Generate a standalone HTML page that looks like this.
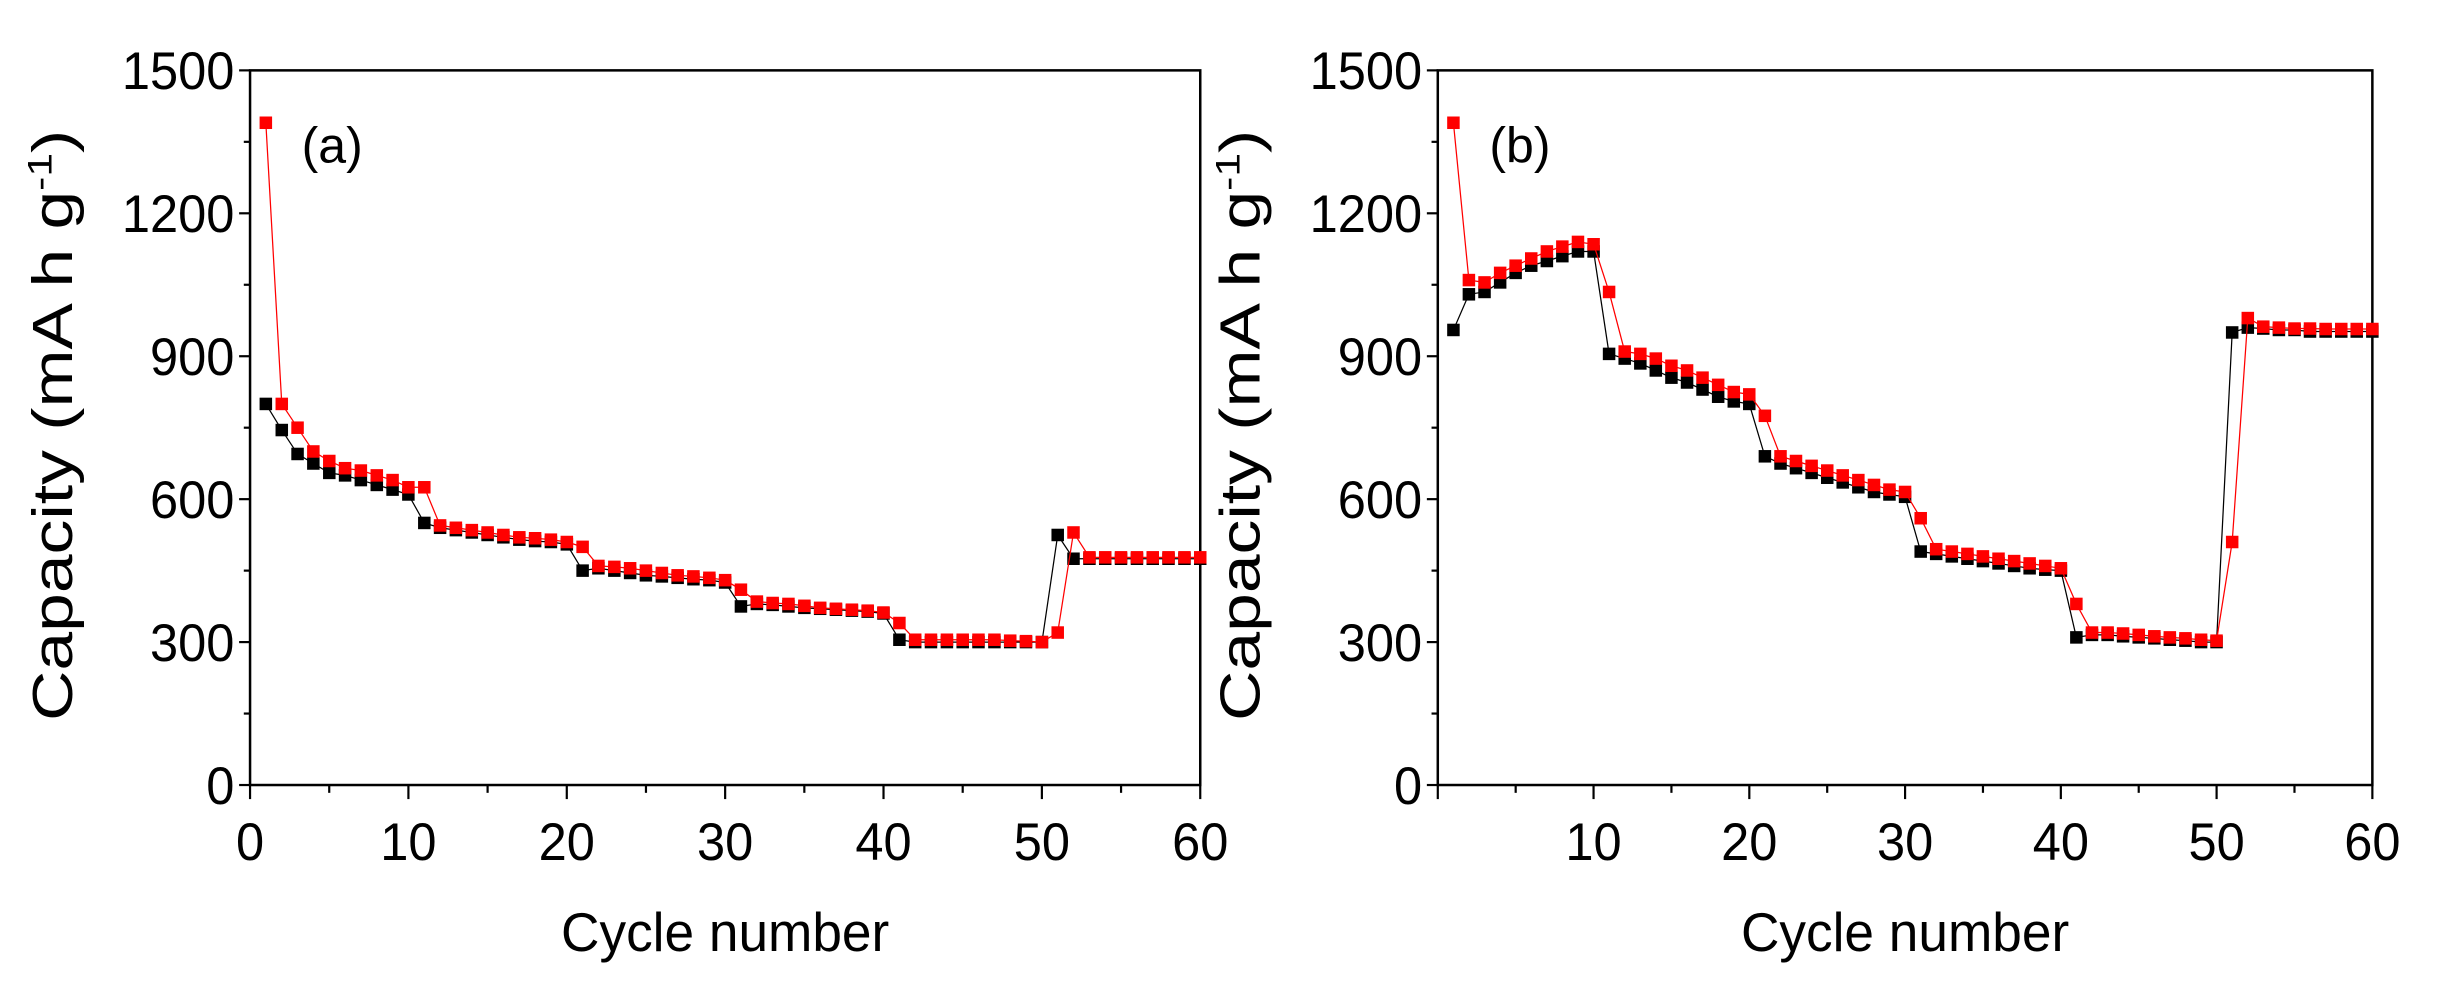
<!DOCTYPE html>
<html><head><meta charset="utf-8"><style>
html,body{margin:0;padding:0;background:#fff;}
svg{display:block;}
text{font-family:"Liberation Sans",Arial,sans-serif;fill:#000;}
</style></head><body>
<svg id="s" width="2438" height="993" viewBox="0 0 1560 635" preserveAspectRatio="none" xmlns="http://www.w3.org/2000/svg"></svg>
<script>
const s=document.getElementById('s');
let h='';
const A={
 blk:[800,745,695,675,655,650,640,630,620,610,550,540,535,530,525,520,515,512,510,505,450,455,450,445,440,438,435,432,430,425,375,380,378,375,372,370,368,366,364,360,305,300,300,300,300,300,300,300,300,300,525,475,475,475,475,475,475,475,475,475],
 red:[1390,800,750,700,680,665,660,650,640,625,625,545,540,535,530,525,520,518,515,510,500,460,458,455,450,445,440,438,435,430,410,385,382,380,376,372,370,368,366,362,340,305,305,305,305,305,305,303,302,300,320,530,478,478,478,478,478,478,478,478]};
const B={
 blk:[955,1030,1035,1055,1075,1090,1100,1110,1120,1120,905,895,885,870,855,845,830,815,805,800,690,675,665,655,645,635,625,615,610,605,490,485,480,475,470,465,460,455,452,450,310,315,315,312,310,308,305,303,300,300,950,960,958,955,955,952,952,952,952,952],
 red:[1390,1060,1055,1075,1090,1105,1120,1130,1140,1135,1035,910,905,895,880,870,855,840,825,820,775,690,680,670,660,650,640,630,620,615,560,495,490,485,480,475,470,465,460,455,380,320,320,318,315,312,310,308,305,303,510,980,962,960,958,958,957,957,957,957]};
function panel(x0,x1,lab,data,zeroLabel,ylx){
 const y0=502,yt=45;
 const X=c=>x0+(x1-x0)*c/60, Y=v=>y0-(y0-yt)*v/1500;
 h+=`<rect x="${x0}" y="${yt}" width="${x1-x0}" height="${y0-yt}" fill="none" stroke="#000" stroke-width="1.6"/>`;
 for(let v=0;v<=1500;v+=150){const y=Y(v);const L=v%300==0?7:4;h+=`<line x1="${x0-L}" y1="${y}" x2="${x0}" y2="${y}" stroke="#000" stroke-width="1.4"/>`;
  if(v%300==0)h+=`<text x="${x0-10}" y="${y+12}" font-size="34" text-anchor="end" textLength="${v>=1000?72:(v?54:18)}" lengthAdjust="spacingAndGlyphs">${v}</text>`;}
 for(let c=0;c<=60;c+=5){const x=X(c);const L=c%10==0?9:5;h+=`<line x1="${x}" y1="${y0}" x2="${x}" y2="${y0+L}" stroke="#000" stroke-width="1.4"/>`;
  if(c%10==0&&(c>0||zeroLabel))h+=`<text x="${x}" y="${y0+48}" font-size="34" text-anchor="middle" textLength="36" lengthAdjust="spacingAndGlyphs">${c}</text>`.replace('textLength="36"',c==0?'textLength="18"':'textLength="36"');}
 h+=`<text x="${(x0+x1)/2}" y="608" font-size="35" text-anchor="middle" textLength="210" lengthAdjust="spacingAndGlyphs">Cycle number</text>`;
 h+=`<text transform="translate(${ylx},272) rotate(-90)" font-size="36" text-anchor="middle" textLength="378" lengthAdjust="spacingAndGlyphs">Capacity (mA h g<tspan font-size="22" dy="-13">-1</tspan><tspan dy="13">)</tspan></text>`;
 h+=`<text x="${x0+33}" y="104" font-size="32">${lab}</text>`;
 ['blk','red'].forEach(k=>{const col=k=='blk'?'#000':'#f00';const d=data[k];
  let p=d.map((v,i)=>`${X(i+1).toFixed(1)},${Y(v).toFixed(1)}`).join(' ');
  h+=`<polyline points="${p}" fill="none" stroke="${col}" stroke-width="0.8"/>`;
  d.forEach((v,i)=>{h+=`<rect x="${(X(i+1)-4).toFixed(1)}" y="${(Y(v)-4).toFixed(1)}" width="8" height="8" fill="${col}"/>`;});});
}
panel(160,768,'(a)',A,true,46);
panel(920,1518,'(b)',B,false,806);
s.innerHTML=h;
</script>
</body></html>
